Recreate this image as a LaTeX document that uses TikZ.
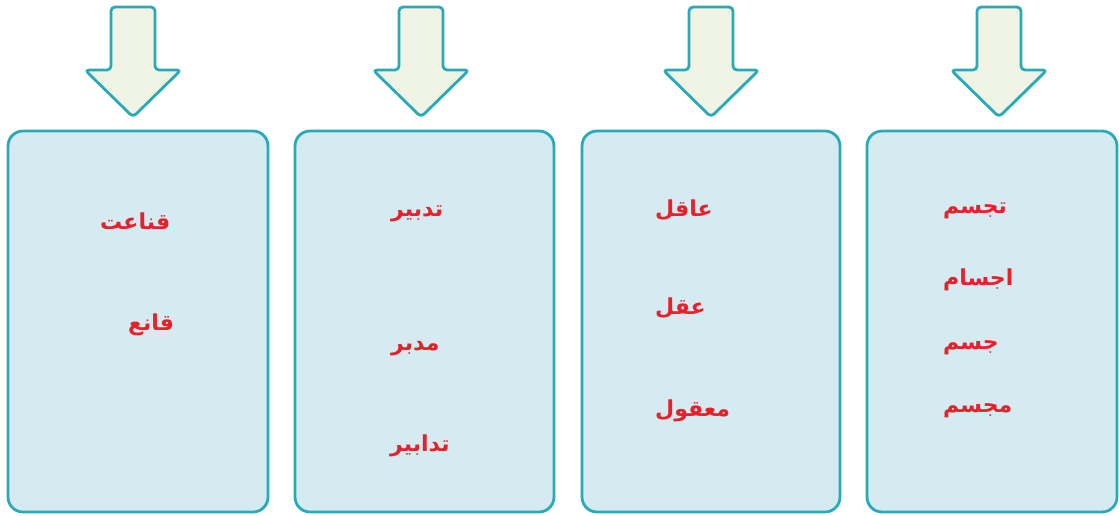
\documentclass[tikz,border=0pt]{standalone}
\usepackage{fontspec}
\newfontfamily\arabicfont[Script=Arabic]{DejaVu Sans}
\TeXXeTstate=1
\usepackage{tikz}
\definecolor{tealline}{HTML}{2AA9B8}
\definecolor{boxfill}{HTML}{D6EAF1}
\definecolor{arrowfill}{HTML}{F0F4E4}
\definecolor{wordred}{HTML}{E8202A}
\def\downblock(#1){\draw[arrowpart] (#1-22,7) -- (#1+22,7) -- (#1+22,70) -- (#1+48,70) -- (#1,117) -- (#1-48,70) -- (#1-22,70) -- cycle;}
\tikzset{
  panel/.style={draw=tealline, fill=boxfill, line width=2.8pt, rounded corners=15pt},
  arrowpart/.style={draw=tealline, fill=arrowfill, line width=2.8pt, rounded corners=4pt, line join=round},
  word/.style={anchor=west, inner sep=0pt, text=wordred, font=\arabicfont\bfseries\fontsize{22}{26}\selectfont}
}
\begin{document}
\begin{tikzpicture}[x=1pt, y=-1pt]
		%%%%% START %%%%%
		\useasboundingbox (0,0) rectangle (1119,515);
		
		\downblock(133)
		\downblock(421)
		\downblock(711)
		\downblock(999)
		
		\draw[panel] (8,131) rectangle (268,512);
		\draw[panel] (295,131) rectangle (554,512);
		\draw[panel] (582,131) rectangle (840,512);
		\draw[panel] (867,131) rectangle (1117,512);
		
		\node[word] (qanaat) at (100,221) {\beginR قناعت\endR};
		\node[word] (qane) at (128,325) {\beginR قانع\endR};
		
		\node[word] (tadbir) at (391,214) {\beginR تدبير\endR};
		\node[word] (modabber) at (391,349) {\beginR مدبر\endR};
		\node[word] (tadabir) at (390,446) {\beginR تدابير\endR};
		
		\node[word] (aqel) at (655,210) {\beginR عاقل\endR};
		\node[word] (aql) at (655,308) {\beginR عقل\endR};
		\node[word] (maqul) at (655,411) {\beginR معقول\endR};
		
		\node[word] (tajassom) at (943,211) {\beginR تجسم\endR};
		\node[word] (ajsam) at (943,280) {\beginR اجسام\endR};
		\node[word] (jesm) at (943,348) {\beginR جسم\endR};
		\node[word] (mojassam) at (943,411) {\beginR مجسم\endR};
		%%%%% END %%%%%
\end{tikzpicture}
\end{document}
